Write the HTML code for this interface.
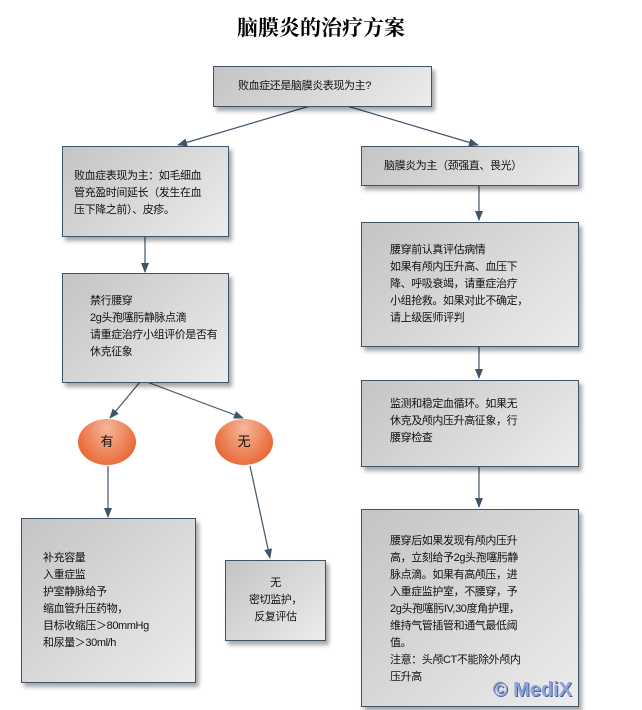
<!DOCTYPE html>
<html><head><meta charset="utf-8"><style>
body{margin:0;width:642px;height:710px;background:#fff;position:relative;overflow:hidden;font-family:"Liberation Sans","Noto Sans CJK SC",sans-serif;}
.b{position:absolute;box-sizing:border-box;border:1px solid #3f5468;background:linear-gradient(135deg,#c4c4c4,#ececec);box-shadow:3px 4px 4px rgba(0,0,0,.35);font-size:11px;letter-spacing:-0.4px;line-height:17px;color:#111;white-space:nowrap;}
.e{position:absolute;width:58px;height:46px;border-radius:50%;background:radial-gradient(ellipse at 50% 20%,#f6b79a,#e9703f 70%,#d9521f);font-size:13px;text-align:center;line-height:46px;color:#111;}
h1{position:absolute;top:12px;left:0;width:642px;text-align:center;margin:0;font:bold 21px "Noto Serif CJK SC",serif;}
svg{position:absolute;left:0;top:0}
</style></head><body>
<h1>脑膜炎的治疗方案</h1>
<svg width="642" height="710"><defs><marker id="a" markerWidth="10" markerHeight="8" refX="9" refY="4" orient="auto" markerUnits="userSpaceOnUse"><path d="M0,0L10,4L0,8z" fill="#3f5468"/></marker></defs>
<g stroke="#3f5468" stroke-width="1.2" fill="none" marker-end="url(#a)">
<line x1="310" y1="106" x2="178" y2="145"/>
<line x1="347" y1="106" x2="478" y2="145"/>
<line x1="479" y1="186" x2="479" y2="220"/>
<line x1="145" y1="237" x2="145" y2="272"/>
<line x1="479" y1="347" x2="479" y2="378"/>
<line x1="479" y1="467" x2="479" y2="507"/>
<line x1="140" y1="382" x2="110" y2="418"/>
<line x1="147" y1="382" x2="243" y2="418"/>
<line x1="108" y1="466" x2="108" y2="517"/>
<line x1="250" y1="466" x2="270" y2="558"/>
</g></svg>
<div class="b" style="left:213px;top:66px;width:219px;height:41px;padding:11px 0 0 24px">败血症还是脑膜炎表现为主?</div>
<div class="b" style="left:62px;top:146px;width:167px;height:91px;padding:21px 0 0 11px">败血症表现为主：如毛细血<br>管充盈时间延长（发生在血<br>压下降之前）、皮疹。</div>
<div class="b" style="left:361px;top:146px;width:218px;height:40px;padding:11px 0 0 22px">脑膜炎为主（颈强直、畏光）</div>
<div class="b" style="left:361px;top:222px;width:218px;height:125px;padding:19px 0 0 28px">腰穿前认真评估病情<br>如果有颅内压升高、血压下<br>降、呼吸衰竭，请重症治疗<br>小组抢救。如果对此不确定，<br>请上级医师评判</div>
<div class="b" style="left:62px;top:273px;width:167px;height:110px;padding:19px 0 0 27px">禁行腰穿<br>2g头孢噻肟静脉点滴<br>请重症治疗小组评价是否有<br>休克征象</div>
<div class="e" style="left:78px;top:419px">有</div>
<div class="e" style="left:215px;top:419px">无</div>
<div class="b" style="left:361px;top:380px;width:218px;height:87px;padding:15px 0 0 28px">监测和稳定血循环。如果无<br>休克及颅内压升高征象，行<br>腰穿检查</div>
<div class="b" style="left:21px;top:518px;width:175px;height:165px;padding:31px 0 0 21px">补充容量<br>入重症监<br>护室静脉给予<br>缩血管升压药物，<br>目标收缩压＞80mmHg<br>和尿量＞30ml/h</div>
<div class="b" style="left:225px;top:560px;width:101px;height:81px;padding:14px 0 0 0;text-align:center">无<br>密切监护，<br>反复评估</div>
<div class="b" style="left:361px;top:509px;width:218px;height:198px;padding:23px 0 0 28px">腰穿后如果发现有颅内压升<br>高，立刻给予2g头孢噻肟静<br>脉点滴。如果有高颅压，进<br>入重症监护室，不腰穿，予<br>2g头孢噻肟IV,30度角护理，<br>维持气管插管和通气最低阈<br>值。<br>注意：头颅CT不能除外颅内<br>压升高
<div style="position:absolute;right:6px;bottom:4px;font:bold 20px 'Liberation Sans',sans-serif;letter-spacing:0;color:#8fa4d8;text-shadow:1px 1px 0 #4a5f9a">© MediX</div></div>
</body></html>
